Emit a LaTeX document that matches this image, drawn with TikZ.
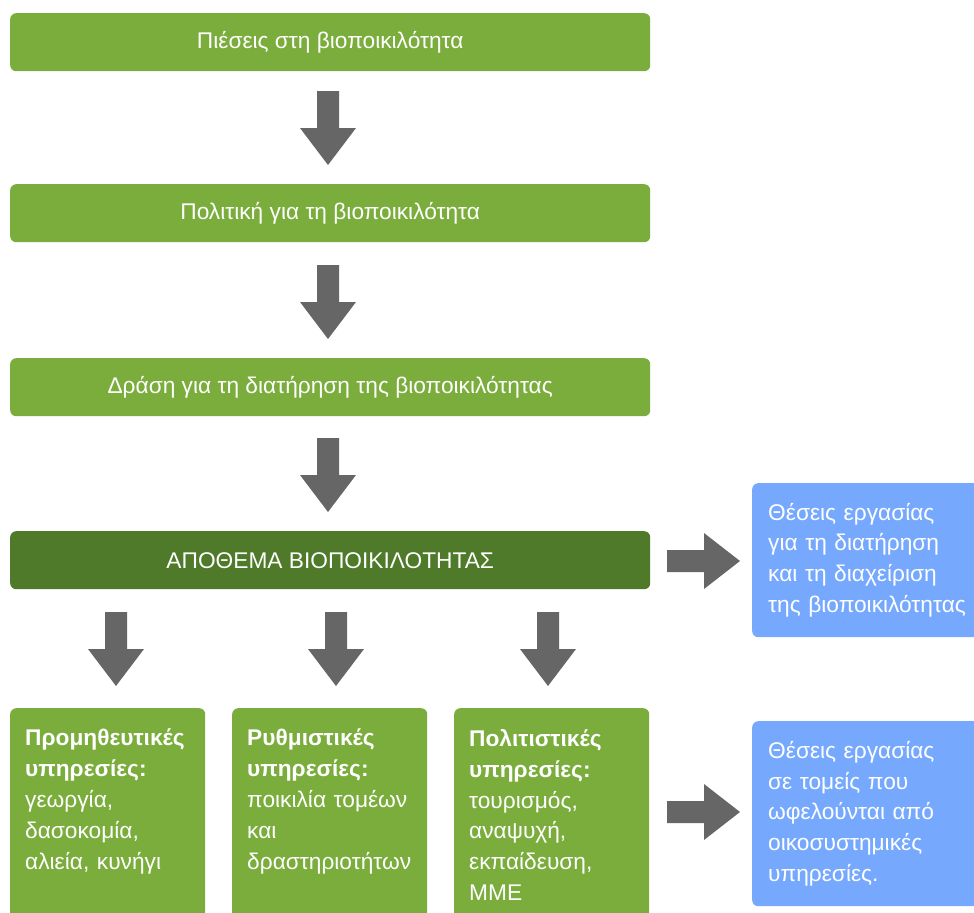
\documentclass[tikz,border=0pt]{standalone}
\usepackage{fontspec}
\setmainfont{Liberation Sans}
\definecolor{gmid}{HTML}{7AAD3C}
\definecolor{gdark}{HTML}{4E7A2A}
\definecolor{bluebox}{HTML}{76A9FE}
\definecolor{arrowgray}{HTML}{666666}
\tikzset{
  greenbar/.style={fill=gmid, draw=none, rounded corners=6bp, minimum width=640bp, minimum height=58bp,
    anchor=north west, text=white, font=\fontsize{22.8}{27}\selectfont, inner sep=0pt},
  darkbar/.style={greenbar, fill=gdark},
  bluepanel/.style={fill=bluebox, draw=none, rounded corners=6bp, anchor=north west, text=white,
    font=\fontsize{22.8}{31}\selectfont, align=left, text width=220bp, inner xsep=16bp, inner ysep=0pt},
  servbox/.style={fill=gmid, draw=none, rounded corners=6bp, anchor=north west, minimum width=195bp,
    minimum height=230bp, inner sep=0pt},
  servtext/.style={anchor=north west, text=white, font=\fontsize{22.8}{31}\selectfont, align=left,
    inner sep=0pt, text width=185bp},
  blockarrow/.style={fill=arrowgray, draw=none},
}
% down arrow: #1 = centre x, #2 = top y
\newcommand{\downblock}[2]{%
  \fill[blockarrow] (#1-11,#2) -- (#1+11,#2) -- (#1+11,#2+37) -- (#1+28,#2+37) -- (#1,#2+74)
    -- (#1-28,#2+37) -- (#1-11,#2+37) -- cycle;}
% right arrow: #1 = left x, #2 = centre y
\newcommand{\rightblock}[2]{%
  \fill[blockarrow] (#1,#2-11) -- (#1+37,#2-11) -- (#1+37,#2-28) -- (#1+73,#2) -- (#1+37,#2+28)
    -- (#1+37,#2+11) -- (#1,#2+11) -- cycle;}
\begin{document}
\begin{tikzpicture}[x=1bp,y=-1bp]
\useasboundingbox (0,0) rectangle (974,913);
\fill[white] (0,0) rectangle (974,913);
\begin{scope}
\clip (0,0) rectangle (974,913);
\node[greenbar] (p1) at (10,13) {Πιέσεις στη βιοποικιλότητα};
\node[greenbar] (p2) at (10,184) {Πολιτική για τη βιοποικιλότητα};
\node[greenbar] (p3) at (10,358) {Δράση για τη διατήρηση της βιοποικιλότητας};
\node[darkbar] (p4) at (10,531) {ΑΠΟΘΕΜΑ ΒΙΟΠΟΙΚΙΛΟΤΗΤΑΣ};

\node[bluepanel, minimum height=154bp] (j1) at (752,483) {Θέσεις εργασίας\\για τη διατήρηση\\και τη διαχείριση\\της βιοποικιλότητας};
\node[bluepanel, minimum height=185bp] (j2) at (752,721) {Θέσεις εργασίας\\σε τομείς που\\ωφελούνται από\\οικοσυστημικές\\υπηρεσίες.};

\node[servbox] (s1) at (10,708) {};
\node[servbox] (s2) at (232,708) {};
\node[servbox] (s3) at (454,708) {};
\node[servtext] (t1) at (25,729) {\textbf{Προμηθευτικές\\υπηρεσίες:}\\γεωργία,\\δασοκομία,\\αλιεία, κυνήγι};
\node[servtext] (t2) at (247,729) {\textbf{Ρυθμιστικές\\υπηρεσίες:}\\ποικιλία τομέων\\και\\δραστηριοτήτων};
\node[servtext] (t3) at (469,729) {\textbf{Πολιτιστικές\\υπηρεσίες:}\\τουρισμός,\\αναψυχή,\\εκπαίδευση,\\ΜΜΕ};
\end{scope}

\downblock{328}{91}
\downblock{328}{265}
\downblock{328}{438}
\downblock{116}{612}
\downblock{336}{612}
\downblock{548}{612}
\rightblock{667}{561}
\rightblock{667}{812}
\end{tikzpicture}
\end{document}
